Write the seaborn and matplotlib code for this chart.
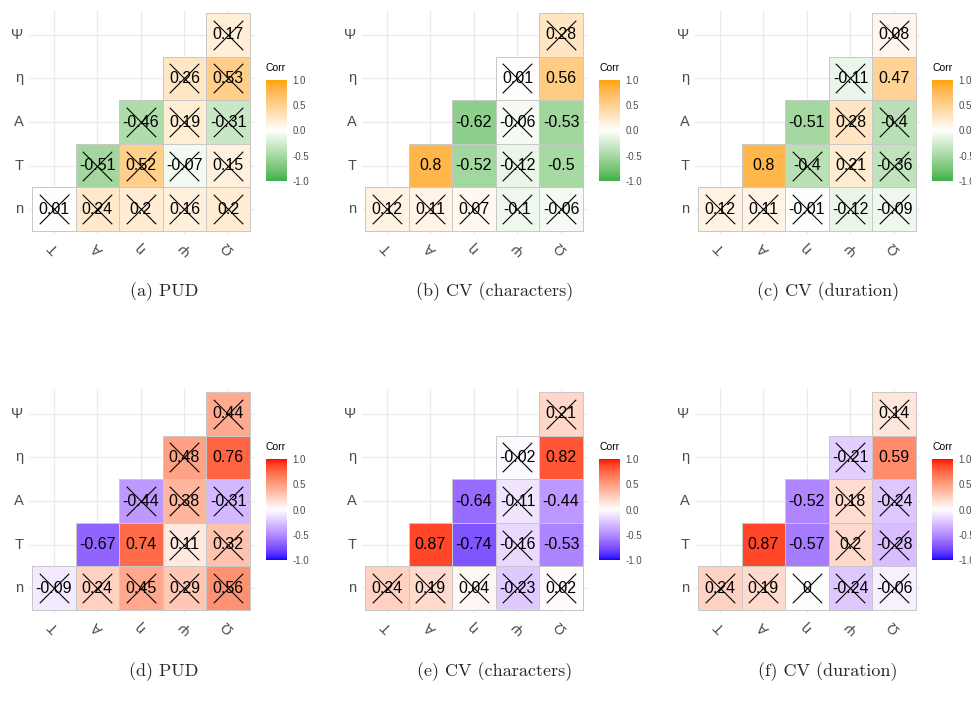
import numpy as np
import pandas as pd
import seaborn as sns
import matplotlib
matplotlib.use("Agg")
import matplotlib.pyplot as plt
import matplotlib.colors as mcolors

# variables: rows from bottom (n..Psi), columns left to right (T..Omega)
row_vars = ["n", "T", "A", "η", "Ψ"]
col_vars = ["T", "A", "η", "Ψ", "Ω"]

# lower triangle, one list per row (row n first), cells from its diagonal to Omega
corr_a = [[0.01, 0.24, 0.2, 0.16, 0.2], [-0.51, 0.52, -0.07, 0.15], [-0.46, 0.19, -0.31], [0.26, 0.53], [0.17]]
sig_a = [[0, 0, 0, 0, 0], [0, 0, 0, 0], [0, 0, 0], [0, 0], [0]]
corr_b = [[0.12, 0.11, 0.07, -0.1, -0.06], [0.8, -0.52, -0.12, -0.5], [-0.62, -0.06, -0.53], [0.01, 0.56], [0.28]]
sig_b = [[0, 0, 0, 0, 0], [1, 1, 0, 1], [1, 0, 1], [0, 1], [0]]
corr_c = [[0.12, 0.11, -0.01, -0.12, -0.09], [0.8, -0.4, 0.21, -0.36], [-0.51, 0.28, -0.4], [-0.11, 0.47], [0.08]]
sig_c = [[0, 0, 0, 0, 0], [1, 0, 0, 0], [1, 0, 0], [0, 1], [0]]
corr_d = [[-0.09, 0.24, 0.45, 0.29, 0.56], [-0.67, 0.74, 0.11, 0.32], [-0.44, 0.38, -0.31], [0.48, 0.76], [0.44]]
sig_d = [[0, 0, 0, 0, 0], [1, 1, 0, 0], [0, 0, 0], [0, 1], [0]]
corr_e = [[0.24, 0.19, 0.04, -0.23, 0.02], [0.87, -0.74, -0.16, -0.53], [-0.64, -0.11, -0.44], [-0.02, 0.82], [0.21]]
sig_e = [[0, 0, 0, 0, 0], [1, 1, 0, 1], [1, 0, 1], [0, 1], [0]]
corr_f = [[0.24, 0.19, 0, -0.24, -0.06], [0.87, -0.57, 0.2, -0.28], [-0.52, 0.18, -0.24], [-0.21, 0.59], [0.14]]
sig_f = [[0, 0, 0, 0, 0], [1, 1, 0, 0], [1, 0, 0], [0, 1], [0]]

captions = ["(a) PUD", "(b) CV (characters)", "(c) CV (duration)",
            "(d) PUD", "(e) CV (characters)", "(f) CV (duration)"]
palette_top = ("#3EB049", "#FFFFFF", "#FFA500")
palette_bottom = ("#0000FF", "#FFFFFF", "#FF0000")

sns.set_style("white")
plt.rcParams["font.family"] = ["Liberation Sans", "DejaVu Sans"]
plt.rcParams["axes.unicode_minus"] = False

W, H = 971, 713
WHITE = np.array([0.95047, 1.0, 1.08883])
M = np.array([[0.4124, 0.3576, 0.1805], [0.2126, 0.7152, 0.0722], [0.0193, 0.1192, 0.9505]])


def to_lab(c):
    rgb = np.array(mcolors.to_rgb(c))
    lin = np.where(rgb <= 0.04045, rgb / 12.92, ((rgb + 0.055) / 1.055) ** 2.4)
    xyz = M @ lin / WHITE
    f = np.where(xyz > 216 / 24389, np.cbrt(xyz), (24389 / 27 * xyz + 16) / 116)
    return np.array([116 * f[1] - 16, 500 * (f[0] - f[1]), 200 * (f[1] - f[2])])


def from_lab(lab):
    fy = (lab[0] + 16) / 116
    f = np.array([fy + lab[1] / 500, fy, fy - lab[2] / 200])
    xyz = np.where(f ** 3 > 216 / 24389, f ** 3, (116 * f - 16) / (24389 / 27)) * WHITE
    lin = np.clip(np.linalg.solve(M, xyz), 0, 1)
    rgb = np.where(lin <= 0.0031308, 12.92 * lin, 1.055 * lin ** (1 / 2.4) - 0.055)
    return np.clip(rgb, 0, 1)


def lab_cmap(low, mid, high, n=256):
    # ggplot-like gradient2, interpolated in CIELAB
    lo, mi, hi = to_lab(low), to_lab(mid), to_lab(high)
    cols = []
    for t in np.linspace(0, 1, n):
        if t < 0.5:
            cols.append(from_lab(lo + (mi - lo) * t * 2))
        else:
            cols.append(from_lab(mi + (hi - mi) * (t - 0.5) * 2))
    return mcolors.ListedColormap(cols)


def build_frames(corr, sig):
    vals = np.full((5, 5), np.nan)
    flags = np.zeros((5, 5))
    for i, row in enumerate(corr):
        for k, v in enumerate(row):
            vals[i, i + k] = v
            flags[i, i + k] = sig[i][k]
    # heatmap draws first row at the top, so flip rows
    df = pd.DataFrame(vals[::-1], index=row_vars[::-1], columns=col_vars)
    sf = pd.DataFrame(flags[::-1], index=row_vars[::-1], columns=col_vars)
    return df, sf


def px_axes(fig, left, top, right, bottom):
    return fig.add_axes([left / W, 1 - bottom / H, (right - left) / W, (bottom - top) / H])


def corr_panel(fig, corr, sig, cmap, cell_left, cell_top, caption, cap_x, cap_y):
    cell = 43.6
    df, sf = build_frames(corr, sig)
    ax = px_axes(fig, cell_left - 3, cell_top - 3, cell_left + 5 * cell + 5, cell_top + 5 * cell + 3)
    cax = px_axes(fig, cell_left + 234, cell_top + 67, cell_left + 255, cell_top + 168)
    labels = df.map(lambda v: "" if np.isnan(v) else f"{v:g}")
    sns.heatmap(df, ax=ax, cbar_ax=cax, cmap=cmap, vmin=-1, vmax=1,
                annot=labels, fmt="", annot_kws={"size": 11.5, "color": "black"},
                linewidths=0.7, linecolor="#C8C8C8", mask=df.isna())
    # no borders on the empty upper triangle
    mesh = ax.collections[0]
    edge = [(0, 0, 0, 0) if np.isnan(v) else mcolors.to_rgba("#C8C8C8") for v in df.values.ravel()]
    mesh.set_edgecolor(edge)
    # crosses over non-significant cells
    for r in range(5):
        for c in range(5):
            if not np.isnan(df.iat[r, c]) and sf.iat[r, c] == 0:
                ax.scatter(c + 0.5, r + 0.5, marker="x", s=450, color="black", linewidths=0.8, zorder=5)
    ax.set_xlim(-0.07, 5.12)
    ax.set_ylim(5.07, -0.07)
    ax.set_axisbelow(True)
    ax.grid(True, color="#EBEBEB", linewidth=1.0)
    ax.set_xlabel("")
    ax.set_ylabel("")
    ax.set_yticklabels(df.index, rotation=0, fontsize=10.5, color="#4D4D4D")
    ax.set_xticklabels(col_vars, rotation=135, rotation_mode="anchor", ha="center", va="center",
                       fontsize=10.5, color="#4D4D4D")
    ax.tick_params(axis="x", length=0, pad=10)
    ax.tick_params(axis="y", length=0, pad=4)

    cb = mesh.colorbar
    cb.outline.set_visible(False)
    cb.set_ticks([-1, -0.5, 0, 0.5, 1])
    cb.set_ticklabels(["-1.0", "-0.5", "0.0", "0.5", "1.0"])
    cax.tick_params(axis="y", left=True, right=True, direction="in", color="white", length=3,
                    width=0.8, labelsize=7, labelcolor="#4D4D4D", pad=4)
    fig.text((cell_left + 234) / W, 1 - (cell_top + 55) / H, "Corr", fontsize=7.5,
             ha="left", va="center", color="black")
    fig.text(cap_x / W, 1 - cap_y / H, caption, family="cmr10", fontsize=13,
             ha="center", va="center")


fig = plt.figure(figsize=(W / 100, H / 100), dpi=100)
cmap_top = lab_cmap(*palette_top)
cmap_bottom = lab_cmap(*palette_bottom)

panels = [(corr_a, sig_a), (corr_b, sig_b), (corr_c, sig_c),
          (corr_d, sig_d), (corr_e, sig_e), (corr_f, sig_f)]
lefts = [32, 365, 698]
cap_xs = [164, 495, 828]
for k, (corr, sig) in enumerate(panels):
    row, col = divmod(k, 3)
    top = 13 if row == 0 else 392
    cap_y = 292 if row == 0 else 672
    cmap = cmap_top if row == 0 else cmap_bottom
    corr_panel(fig, corr, sig, cmap, lefts[col], top, captions[k], cap_xs[col], cap_y)

fig.savefig("out.png", dpi=100)
